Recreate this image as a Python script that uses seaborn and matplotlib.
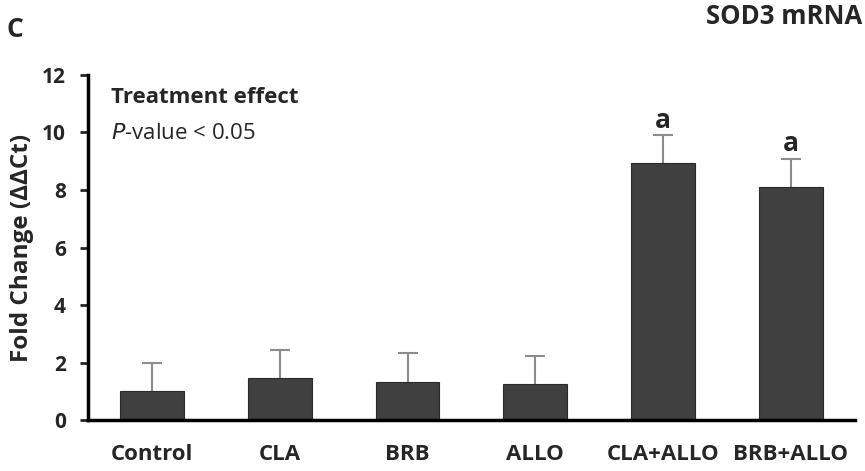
import pandas as pd
import numpy as np
from matplotlib import pyplot as plt
import seaborn as sns

groups = ['Control', 'CLA', 'BRB', 'ALLO', 'CLA+ALLO', 'BRB+ALLO']
fold_change = [1.0, 1.45, 1.32, 1.24, 8.93, 8.10]
sem = [1.0, 1.0, 1.0, 0.98, 0.98, 0.98]
letters = ['', '', '', '', 'a', 'a']

dataset = pd.DataFrame({'Group': groups, 'Fold': fold_change})

sns.set_style('white')
plt.rcParams['font.family'] = ['Open Sans', 'DejaVu Sans']

fig = plt.figure(figsize=(8.65, 4.71), dpi=100)
ax = fig.add_axes([0.102, 0.108, 0.886, 0.733])

sns.barplot(x='Group', y='Fold', data=dataset, color='#404040', width=0.5,
            edgecolor='#2a2a2a', linewidth=0.8, saturation=1, ax=ax)

# upper error only, no cap at bar top
pos = np.arange(len(groups))
eb = ax.errorbar(pos, fold_change, yerr=[np.zeros(len(sem)), sem], fmt='none',
                 ecolor='#8c8c8c', elinewidth=1.5, capsize=7, capthick=1.5,
                 zorder=0.5)
eb[1][0].set_visible(False)

for x, y, e, t in zip(pos, fold_change, sem, letters):
    if t:
        ax.text(x, y + e + 0.05, t, ha='center', va='bottom',
                fontsize=19, fontweight='bold')

ax.set_xlim(-0.5, len(groups) - 0.5)
ax.set_ylim(0, 12)
ax.set_yticks(range(0, 13, 2))
ax.set_xlabel('')
ax.set_ylabel('Fold Change (ΔΔCt)', fontsize=17.5, fontweight='bold', labelpad=6)
ax.tick_params(axis='y', direction='out', length=6, width=2, left=True,
               labelsize=15, pad=10)
ax.tick_params(axis='x', length=0, labelsize=16, pad=17)
for lab in ax.get_xticklabels() + ax.get_yticklabels():
    lab.set_fontweight('bold')

for side in ['top', 'right']:
    ax.spines[side].set_visible(False)
for side in ['left', 'bottom']:
    ax.spines[side].set_linewidth(2.5)
    ax.spines[side].set_color('black')

ax.text(0.03, 0.935, 'Treatment effect', transform=ax.transAxes,
        fontsize=16, fontweight='bold', va='center')
ax.text(0.03, 0.83, '$\\it{P}$-value < 0.05', transform=ax.transAxes,
        fontsize=16, va='center')

fig.text(0.008, 0.938, 'C', fontsize=19, fontweight='bold', va='center')
fig.text(0.997, 0.966, 'SOD3 mRNA', fontsize=18.5, fontweight='bold',
         ha='right', va='center')

plt.savefig('out.png', dpi=100)
